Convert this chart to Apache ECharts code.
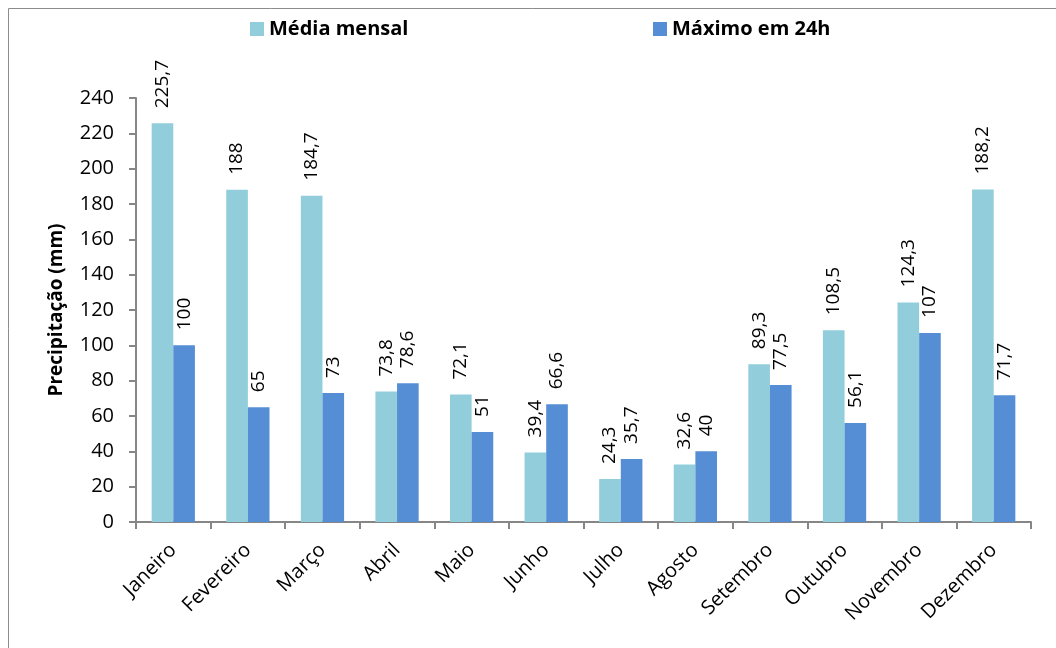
<!DOCTYPE html>
<html>
<head>
<meta charset="utf-8">
<script src="https://cdn.jsdelivr.net/npm/echarts@6/dist/echarts.min.js"></script>
<style>html,body{margin:0;padding:0;background:#fff}#c{width:1056px;height:648px}</style>
</head>
<body>
<div id="c"></div>
<script>
const months = ['Janeiro','Fevereiro','Março','Abril','Maio','Junho','Julho','Agosto','Setembro','Outubro','Novembro','Dezembro'];
const mediaMensal = [225.7, 188, 184.7, 73.8, 72.1, 39.4, 24.3, 32.6, 89.3, 108.5, 124.3, 188.2];
const maximo24h = [100, 65, 73, 78.6, 51, 66.6, 35.7, 40, 77.5, 56.1, 107, 71.7];
const seriesNames = ['Média mensal', 'Máximo em 24h'];
const yAxisName = 'Precipitação (mm)';

const FONT = 'Open Sans';
const fmt = p => String(p.value).replace('.', ',');
const labelCfg = {
  show: true, position: 'top', rotate: 90, align: 'left', verticalAlign: 'middle',
  distance: 15, fontFamily: FONT, fontSize: 19, color: '#000', formatter: fmt
};
const legendText = { fontFamily: FONT, fontWeight: 'bold', fontSize: 20, color: '#000' };
const chart = echarts.init(document.getElementById('c'));
chart.setOption({
  animation: false,
  backgroundColor: '#fff',
  graphic: [{
    type: 'rect', shape: { x: 8.5, y: 8.5, width: 1100, height: 700 },
    style: { fill: 'none', stroke: '#8c8c8c', lineWidth: 1 }, silent: true
  }],
  legend: [
    { data: [seriesNames[0]], left: 250, top: 19, padding: 0, itemWidth: 14, itemHeight: 14, itemGap: 6, icon: 'rect', textStyle: legendText },
    { data: [seriesNames[1]], left: 653, top: 19, padding: 0, itemWidth: 14, itemHeight: 14, itemGap: 6, icon: 'rect', textStyle: legendText }
  ],
  grid: { left: 136, right: 25, top: 98, bottom: 126, containLabel: false },
  xAxis: {
    type: 'category', data: months,
    axisLine: { lineStyle: { color: '#868686', width: 2 } },
    axisTick: { show: true, length: 7, lineStyle: { color: '#868686', width: 2 } },
    axisLabel: { rotate: 45, fontFamily: FONT, fontSize: 20, color: '#000', margin: 25, interval: 0 }
  },
  yAxis: {
    type: 'value', min: 0, max: 240, interval: 20,
    name: yAxisName, nameLocation: 'middle', nameGap: 70, nameRotate: 90,
    nameTextStyle: { fontFamily: FONT, fontWeight: 'bold', fontSize: 19, color: '#000' },
    axisLine: { show: true, lineStyle: { color: '#868686', width: 2 } },
    axisTick: { show: true, length: 7, lineStyle: { color: '#868686', width: 2 } },
    axisLabel: { fontFamily: FONT, fontSize: 20, color: '#000', margin: 22 },
    splitLine: { show: false }
  },
  series: [
    { name: seriesNames[0], type: 'bar', data: mediaMensal, barGap: '0%', barCategoryGap: '42%',
      itemStyle: { color: '#92CDDC' }, label: labelCfg },
    { name: seriesNames[1], type: 'bar', data: maximo24h,
      itemStyle: { color: '#558ED5' }, label: labelCfg }
  ]
});
</script>
</body>
</html>
